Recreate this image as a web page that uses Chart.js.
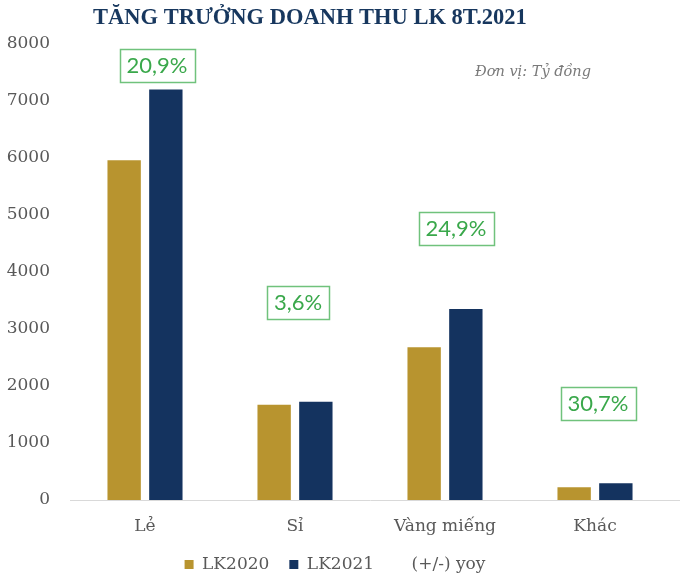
<!DOCTYPE html>
<html>
<head>
<meta charset="utf-8">
<script src="https://cdn.jsdelivr.net/npm/chart.js@4.4.0/dist/chart.umd.min.js"></script>
<style>
  body { margin: 0; background: #fff; }
</style>
</head>
<body>
<canvas id="chart" width="680" height="581"></canvas>
<script>
var categories = ['Lẻ', 'Sỉ', 'Vàng miếng', 'Khác'];
var lk2020 = [5960, 1670, 2680, 225];
var lk2021 = [7200, 1725, 3350, 294];
var yoy = [20.9, 3.6, 24.9, 30.7];
var yTickMax = 8000;
var yTickStep = 1000;

var serif = '"DejaVu Serif", serif';

// title, unit note and the boxed yoy labels
var decor = {
    id: 'decor',
    afterDraw: function(chart, args, opts) {
        var ctx = chart.ctx;
        var x = chart.scales.x, y = chart.scales.y;
        ctx.save();

        ctx.fillStyle = '#17375E';
        ctx.font = 'bold 22.5px "Liberation Serif", serif';
        ctx.textAlign = 'left';
        ctx.textBaseline = 'middle';
        ctx.fillText('TĂNG TRƯỞNG DOANH THU LK 8T.2021', 93, 18);

        ctx.fillStyle = '#7a7a7a';
        ctx.font = 'italic 14.5px ' + serif;
        ctx.fillText('Đơn vị: Tỷ đồng', 475, 72);

        // baseline runs on to the right edge
        ctx.strokeStyle = '#D9D9D9';
        ctx.lineWidth = 1;
        ctx.beginPath();
        ctx.moveTo(chart.chartArea.right, y.getPixelForValue(0) + 0.5);
        ctx.lineTo(chart.width, y.getPixelForValue(0) + 0.5);
        ctx.stroke();

        ctx.font = '22px Lato, sans-serif';
        ctx.textAlign = 'center';
        for (var i = 0; i < yoy.length; i++) {
            var txt = yoy[i].toFixed(1).replace('.', ',') + '%';
            var cx = x.getPixelForValue(i) + opts.dx[i];
            var cy = y.getPixelForValue(opts.at[i]);
            var w = ctx.measureText(txt).width + 14;
            ctx.strokeStyle = '#70C27C';
            ctx.lineWidth = 1.5;
            ctx.strokeRect(Math.round(cx - w / 2) + 0.5, Math.round(cy - 16) + 0.5, Math.round(w), 33);
            ctx.fillStyle = '#3AA84B';
            ctx.fillText(txt, cx, cy + 1);
        }
        ctx.restore();
    }
};

new Chart(document.getElementById('chart'), {
    type: 'bar',
    data: {
        labels: categories,
        datasets: [
            {
                label: 'LK2020',
                data: lk2020,
                backgroundColor: '#B8942F',
                categoryPercentage: 0.556,
                barPercentage: 0.8
            },
            {
                label: 'LK2021',
                data: lk2021,
                backgroundColor: '#14335F',
                categoryPercentage: 0.556,
                barPercentage: 0.8
            },
            {
                type: 'line',
                label: '(+/-) yoy',
                data: yoy,
                yAxisID: 'y1',
                showLine: false,
                pointRadius: 0,
                borderColor: 'rgba(0,0,0,0)',
                backgroundColor: 'rgba(0,0,0,0)'
            }
        ]
    },
    options: {
        responsive: false,
        animation: false,
        layout: { padding: { top: 44, right: 10, left: 0, bottom: -2 } },
        scales: {
            x: {
                afterFit: function(scale) { scale.height = 36; },
                grid: { display: false },
                border: { color: '#D9D9D9', width: 1 },
                ticks: { color: '#595959', font: { family: serif, size: 17 }, padding: 8 }
            },
            y: {
                min: 0,
                max: yTickMax,
                afterFit: function(scale) { scale.width = 70; },
                grid: { display: false, drawTicks: false },
                border: { display: false },
                ticks: {
                    stepSize: yTickStep,
                    color: '#595959',
                    font: { family: serif, size: 17 },
                    padding: 20,
                    callback: function(v) { return String(v); }
                }
            },
            y1: { display: false, min: 0, max: 40 }
        },
        plugins: {
            legend: {
                position: 'bottom',
                labels: {
                    color: '#595959',
                    font: { family: serif, size: 17 },
                    boxWidth: 9,
                    boxHeight: 9,
                    padding: 20
                }
            },
            tooltip: { enabled: false },
            decor: {
                at: [7640, 3480, 4780, 1700],
                dx: [12, 3, 11, 3]
            }
        }
    },
    plugins: [decor]
});
</script>
</body>
</html>
